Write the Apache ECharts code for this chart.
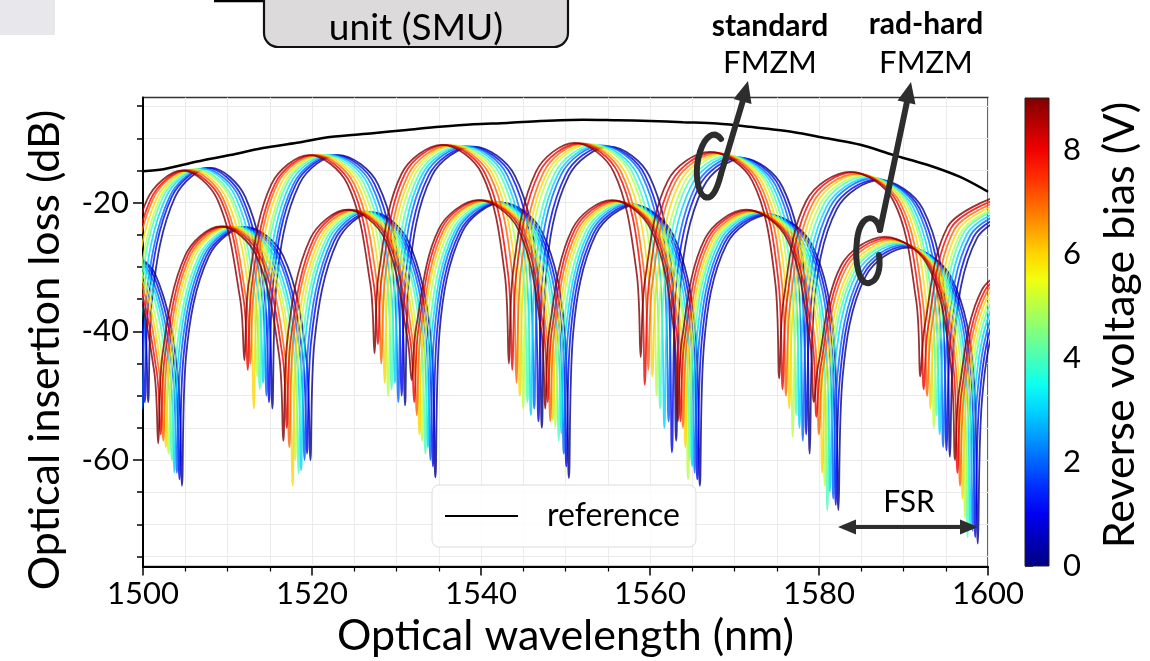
<!DOCTYPE html>
<html>
<head>
<meta charset="utf-8">
<script src="https://cdn.jsdelivr.net/npm/echarts@6/dist/echarts.min.js"></script>
<style>
  html, body { margin: 0; padding: 0; background: #ffffff; }
  #chart { width: 1150px; height: 661px; }
</style>
</head>
<body>
<div id="chart"></div>
<script>
// Optical insertion loss of a standard and a rad-hard folded MZ modulator,
// one trace per reverse bias voltage, plus the fibre-to-fibre reference.

const wavelengthRange = [1500, 1600];
const lossRange = [-76.55, -3.65];
const lossTickValues = [-75, -70, -65, -60, -55, -50, -45, -40, -35, -30, -25, -20, -15, -10, -5];
const lossLabelValues = [-60, -40, -20];
const biasRange = [0, 9];
const biasTickValues = [0, 2, 4, 6, 8];
const biasVolts = [0, 1, 2, 3, 4, 5, 6, 7, 8, 9];

// reference trace [nm, dB]
const referenceLoss = [[1500.0,-15.1],[1502.4,-14.8],[1506.4,-13.6],[1510.3,-12.6],[1514.2,-11.5],[1518.2,-10.7],[1522.1,-9.8],[1527.2,-9.2],[1531.2,-8.7],[1535.1,-8.2],[1539.1,-7.8],[1543.1,-7.6],[1547.0,-7.3],[1552.1,-7.1],[1556.1,-7.2],[1560.0,-7.3],[1563.9,-7.5],[1567.9,-7.7],[1571.8,-8.2],[1576.9,-9.0],[1580.9,-10.0],[1584.9,-11.0],[1588.8,-12.6],[1592.8,-14.1],[1596.7,-16.0],[1600.0,-18.3]];

// standard FMZM traces [nm, dB]
const std0V = [[1493.3,-17],[1497.4,-21.5],[1500.1,-37],[1500.6,-51],[1501.1,-34.6],[1503.8,-19.1],[1508.0,-14.6],[1512.1,-19.1],[1514.8,-34.6],[1515.3,-52],[1515.8,-32.6],[1518.5,-17.1],[1523.1,-12.6],[1527.8,-17.1],[1530.5,-32.6],[1531.0,-51.5],[1531.5,-31.3],[1534.2,-15.8],[1539.1,-11.3],[1544.0,-15.8],[1546.7,-31.3],[1547.2,-55],[1547.7,-31.3],[1550.4,-15.8],[1555.2,-11.3],[1559.9,-15.8],[1562.6,-31.3],[1563.1,-57],[1563.6,-33.1],[1566.3,-17.6],[1571.0,-13.1],[1575.7,-17.6],[1578.4,-33.1],[1578.9,-59],[1579.4,-36.5],[1582.1,-21],[1587.2,-16.5],[1592.3,-21],[1595.0,-36.5],[1595.5,-59.5],[1596.0,-41],[1598.7,-25.5],[1604.0,-21]];
const std1V = [[1492.9,-17],[1497.0,-21.5],[1499.7,-37],[1500.2,-51],[1500.7,-34.6],[1503.4,-19.1],[1507.6,-14.6],[1511.7,-19.1],[1514.4,-34.6],[1514.9,-51],[1515.4,-32.6],[1518.1,-17.1],[1522.8,-12.6],[1527.4,-17.1],[1530.1,-32.6],[1530.6,-50],[1531.1,-31.3],[1533.8,-15.8],[1538.7,-11.3],[1543.6,-15.8],[1546.3,-31.3],[1546.8,-54],[1547.3,-31.2],[1550.0,-15.7],[1554.7,-11.2],[1559.4,-15.7],[1562.1,-31.2],[1562.6,-58.8],[1563.1,-33],[1565.8,-17.5],[1570.6,-13],[1575.3,-17.5],[1578.0,-33],[1578.5,-56],[1579.0,-36.4],[1581.7,-20.9],[1586.8,-16.4],[1591.9,-20.9],[1594.6,-36.4],[1595.1,-58.5],[1595.6,-40.8],[1598.3,-25.3],[1603.6,-20.8]];
const std2V = [[1492.6,-17],[1496.7,-21.5],[1499.4,-37],[1499.9,-52],[1500.4,-34.7],[1503.1,-19.2],[1507.2,-14.7],[1511.4,-19.2],[1514.1,-34.7],[1514.6,-50],[1515.1,-32.6],[1517.8,-17.1],[1522.4,-12.6],[1527.0,-17.1],[1529.7,-32.6],[1530.2,-51],[1530.7,-31.2],[1533.4,-15.7],[1538.3,-11.2],[1543.1,-15.7],[1545.8,-31.2],[1546.3,-52],[1546.8,-31.1],[1549.5,-15.6],[1554.3,-11.1],[1559.0,-15.6],[1561.7,-31.1],[1562.2,-54],[1562.7,-32.9],[1565.4,-17.4],[1570.1,-12.9],[1574.9,-17.4],[1577.6,-32.9],[1578.1,-57],[1578.6,-36.2],[1581.3,-20.7],[1586.4,-16.2],[1591.5,-20.7],[1594.2,-36.2],[1594.7,-58],[1595.2,-40.6],[1597.9,-25.1],[1603.2,-20.6]];
const std3V = [[1492.2,-17],[1496.3,-21.5],[1499.0,-37],[1499.5,-50],[1500.0,-34.7],[1502.7,-19.2],[1506.9,-14.7],[1511.0,-19.2],[1513.7,-34.7],[1514.2,-48],[1514.7,-32.6],[1517.4,-17.1],[1522.0,-12.6],[1526.6,-17.1],[1529.3,-32.6],[1529.8,-48],[1530.3,-31.2],[1533.0,-15.7],[1537.9,-11.2],[1542.7,-15.7],[1545.4,-31.2],[1545.9,-53],[1546.4,-31.1],[1549.1,-15.6],[1553.8,-11.1],[1558.5,-15.6],[1561.2,-31.1],[1561.7,-55],[1562.2,-32.8],[1564.9,-17.3],[1569.7,-12.8],[1574.5,-17.3],[1577.2,-32.8],[1577.7,-55],[1578.2,-36.1],[1580.9,-20.6],[1586.0,-16.1],[1591.1,-20.6],[1593.8,-36.1],[1594.3,-56],[1594.8,-40.4],[1597.5,-24.9],[1602.8,-20.4]];
const std4V = [[1491.8,-17],[1495.9,-21.5],[1498.6,-37],[1499.1,-51],[1499.6,-34.8],[1502.3,-19.3],[1506.5,-14.8],[1510.6,-19.3],[1513.3,-34.8],[1513.8,-49],[1514.3,-32.6],[1517.0,-17.1],[1521.6,-12.6],[1526.2,-17.1],[1528.9,-32.6],[1529.4,-49],[1529.9,-31.2],[1532.6,-15.7],[1537.4,-11.2],[1542.3,-15.7],[1545.0,-31.2],[1545.5,-51],[1546.0,-31],[1548.7,-15.5],[1553.4,-11],[1558.0,-15.5],[1560.7,-31],[1561.2,-52],[1561.7,-32.7],[1564.4,-17.2],[1569.3,-12.7],[1574.1,-17.2],[1576.8,-32.7],[1577.3,-53],[1577.8,-35.9],[1580.5,-20.4],[1585.6,-15.9],[1590.7,-20.4],[1593.4,-35.9],[1593.9,-53],[1594.4,-40.2],[1597.1,-24.7],[1602.4,-20.2]];
const std5V = [[1491.5,-17],[1495.6,-21.5],[1498.3,-37],[1498.8,-48],[1499.3,-34.8],[1502.0,-19.3],[1506.1,-14.8],[1510.3,-19.3],[1513.0,-34.8],[1513.5,-47],[1514.0,-32.6],[1516.7,-17.1],[1521.2,-12.6],[1525.8,-17.1],[1528.5,-32.6],[1529.0,-50],[1529.5,-31.1],[1532.2,-15.6],[1537.0,-11.1],[1541.8,-15.6],[1544.5,-31.1],[1545.0,-52],[1545.5,-30.9],[1548.2,-15.4],[1552.9,-10.9],[1557.6,-15.4],[1560.3,-30.9],[1560.8,-50],[1561.3,-32.5],[1564.0,-17],[1568.8,-12.5],[1573.7,-17],[1576.4,-32.5],[1576.9,-56.4],[1577.4,-35.8],[1580.1,-20.3],[1585.2,-15.8],[1590.4,-20.3],[1593.1,-35.8],[1593.6,-55],[1594.1,-40.1],[1596.8,-24.6],[1602.1,-20.1]];
const std6V = [[1491.1,-17],[1495.2,-21.5],[1497.9,-37],[1498.4,-50],[1498.9,-34.9],[1501.6,-19.4],[1505.8,-14.9],[1509.9,-19.4],[1512.6,-34.9],[1513.1,-52],[1513.6,-32.6],[1516.3,-17.1],[1520.9,-12.6],[1525.4,-17.1],[1528.1,-32.6],[1528.6,-48],[1529.1,-31.1],[1531.8,-15.6],[1536.6,-11.1],[1541.4,-15.6],[1544.1,-31.1],[1544.6,-50],[1545.1,-30.9],[1547.8,-15.4],[1552.5,-10.9],[1557.1,-15.4],[1559.8,-30.9],[1560.3,-47],[1560.8,-32.4],[1563.5,-16.9],[1568.4,-12.4],[1573.3,-16.9],[1576.0,-32.4],[1576.5,-52],[1577.0,-35.6],[1579.7,-20.1],[1584.8,-15.6],[1590.0,-20.1],[1592.7,-35.6],[1593.2,-52],[1593.7,-39.9],[1596.4,-24.4],[1601.7,-19.9]];
const std7V = [[1490.7,-17],[1494.8,-21.5],[1497.5,-37],[1498.0,-49],[1498.5,-34.9],[1501.2,-19.4],[1505.4,-14.9],[1509.5,-19.4],[1512.2,-34.9],[1512.7,-45],[1513.2,-32.6],[1515.9,-17.1],[1520.5,-12.6],[1525.0,-17.1],[1527.7,-32.6],[1528.2,-45],[1528.7,-31.1],[1531.4,-15.6],[1536.2,-11.1],[1541.0,-15.6],[1543.7,-31.1],[1544.2,-48],[1544.7,-30.8],[1547.4,-15.3],[1552.0,-10.8],[1556.6,-15.3],[1559.3,-30.8],[1559.8,-46],[1560.3,-32.3],[1563.0,-16.8],[1568.0,-12.3],[1572.9,-16.8],[1575.6,-32.3],[1576.1,-50],[1576.6,-35.5],[1579.3,-20],[1584.4,-15.5],[1589.6,-20],[1592.3,-35.5],[1592.8,-50],[1593.3,-39.7],[1596.0,-24.2],[1601.3,-19.7]];
const std8V = [[1490.4,-17],[1494.5,-21.5],[1497.2,-37],[1497.7,-47],[1498.2,-35],[1500.9,-19.5],[1505.0,-15],[1509.2,-19.5],[1511.9,-35],[1512.4,-46],[1512.9,-32.6],[1515.6,-17.1],[1520.1,-12.6],[1524.6,-17.1],[1527.3,-32.6],[1527.8,-42],[1528.3,-31],[1531.0,-15.5],[1535.8,-11],[1540.5,-15.5],[1543.2,-31],[1543.7,-46],[1544.2,-30.8],[1546.9,-15.3],[1551.6,-10.8],[1556.2,-15.3],[1558.9,-30.8],[1559.4,-48.3],[1559.9,-32.2],[1562.6,-16.7],[1567.5,-12.2],[1572.5,-16.7],[1575.2,-32.2],[1575.7,-49],[1576.2,-35.3],[1578.9,-19.8],[1584.0,-15.3],[1589.2,-19.8],[1591.9,-35.3],[1592.4,-49],[1592.9,-39.5],[1595.6,-24],[1600.9,-19.5]];
const std9V = [[1490.0,-17],[1494.1,-21.5],[1496.8,-37],[1497.3,-48],[1497.8,-35],[1500.5,-19.5],[1504.7,-15],[1508.8,-19.5],[1511.5,-35],[1512.0,-44.5],[1512.5,-32.6],[1515.2,-17.1],[1519.7,-12.6],[1524.2,-17.1],[1526.9,-32.6],[1527.4,-43.4],[1527.9,-31],[1530.6,-15.5],[1535.4,-11],[1540.1,-15.5],[1542.8,-31],[1543.3,-45],[1543.8,-30.7],[1546.5,-15.2],[1551.1,-10.7],[1555.7,-15.2],[1558.4,-30.7],[1558.9,-44],[1559.4,-32.1],[1562.1,-16.6],[1567.1,-12.1],[1572.1,-16.6],[1574.8,-32.1],[1575.3,-47.3],[1575.8,-35.2],[1578.5,-19.7],[1583.7,-15.2],[1588.8,-19.7],[1591.5,-35.2],[1592.0,-47],[1592.5,-39.3],[1595.2,-23.8],[1600.5,-19.3]];

// rad-hard FMZM traces [nm, dB]
const rad0V = [[1497.3,-26.5],[1501.4,-31],[1504.1,-46.5],[1504.6,-64],[1505.1,-43.8],[1507.8,-28.3],[1512.2,-23.8],[1516.6,-28.3],[1519.3,-43.8],[1519.8,-60],[1520.3,-41.5],[1523.0,-26],[1527.2,-21.5],[1531.4,-26],[1534.1,-41.5],[1534.6,-62.7],[1535.1,-40],[1537.8,-24.5],[1542.5,-20],[1547.2,-24.5],[1549.9,-40],[1550.4,-62.8],[1550.9,-40.4],[1553.6,-24.9],[1558.2,-20.4],[1562.7,-24.9],[1565.4,-40.4],[1565.9,-64],[1566.4,-41.9],[1569.1,-26.4],[1574.1,-21.9],[1579.1,-26.4],[1581.8,-41.9],[1582.3,-67.8],[1582.8,-47],[1585.5,-31.5],[1590.5,-27],[1595.6,-31.5],[1598.3,-47],[1598.8,-73],[1599.3,-50.5],[1602.0,-35],[1607.3,-30.5]];
const rad1V = [[1497.0,-26.4],[1501.1,-30.9],[1503.8,-46.4],[1504.3,-63],[1504.8,-43.8],[1507.5,-28.3],[1511.9,-23.8],[1516.2,-28.3],[1518.9,-43.8],[1519.4,-59],[1519.9,-41.5],[1522.6,-26],[1526.9,-21.5],[1531.1,-26],[1533.8,-41.5],[1534.3,-61],[1534.8,-40],[1537.5,-24.5],[1542.2,-20],[1546.9,-24.5],[1549.6,-40],[1550.1,-61],[1550.6,-40.3],[1553.3,-24.8],[1557.9,-20.3],[1562.4,-24.8],[1565.1,-40.3],[1565.6,-63],[1566.1,-41.8],[1568.8,-26.3],[1573.8,-21.8],[1578.8,-26.3],[1581.5,-41.8],[1582.0,-67],[1582.5,-46.8],[1585.2,-31.3],[1590.2,-26.8],[1595.3,-31.3],[1598.0,-46.8],[1598.5,-72],[1599.0,-50.3],[1601.7,-34.8],[1607.0,-30.3]];
const rad2V = [[1496.7,-26.4],[1500.8,-30.9],[1503.5,-46.4],[1504.0,-62],[1504.5,-43.8],[1507.2,-28.3],[1511.5,-23.8],[1515.9,-28.3],[1518.6,-43.8],[1519.1,-60],[1519.6,-41.4],[1522.3,-25.9],[1526.5,-21.4],[1530.8,-25.9],[1533.5,-41.4],[1534.0,-60],[1534.5,-39.9],[1537.2,-24.4],[1541.9,-19.9],[1546.6,-24.4],[1549.3,-39.9],[1549.8,-59],[1550.3,-40.2],[1553.0,-24.7],[1557.6,-20.2],[1562.1,-24.7],[1564.8,-40.2],[1565.3,-62],[1565.8,-41.7],[1568.5,-26.2],[1573.5,-21.7],[1578.5,-26.2],[1581.2,-41.7],[1581.7,-66],[1582.2,-46.6],[1584.9,-31.1],[1589.9,-26.6],[1595.0,-31.1],[1597.7,-46.6],[1598.2,-71],[1598.7,-50.2],[1601.4,-34.7],[1606.7,-30.2]];
const rad3V = [[1496.4,-26.3],[1500.5,-30.8],[1503.2,-46.3],[1503.7,-61.9],[1504.2,-43.8],[1506.9,-28.3],[1511.2,-23.8],[1515.5,-28.3],[1518.2,-43.8],[1518.7,-61.6],[1519.2,-41.4],[1521.9,-25.9],[1526.2,-21.4],[1530.5,-25.9],[1533.2,-41.4],[1533.7,-58],[1534.2,-39.9],[1536.9,-24.4],[1541.6,-19.9],[1546.3,-24.4],[1549.0,-39.9],[1549.5,-55.9],[1550.0,-40.1],[1552.7,-24.6],[1557.3,-20.1],[1561.8,-24.6],[1564.5,-40.1],[1565.0,-61],[1565.5,-41.6],[1568.2,-26.1],[1573.2,-21.6],[1578.1,-26.1],[1580.8,-41.6],[1581.3,-65],[1581.8,-46.4],[1584.5,-30.9],[1589.6,-26.4],[1594.7,-30.9],[1597.4,-46.4],[1597.9,-70],[1598.4,-50],[1601.1,-34.5],[1606.4,-30]];
const rad4V = [[1496.1,-26.3],[1500.2,-30.8],[1502.9,-46.3],[1503.4,-60],[1503.9,-43.8],[1506.6,-28.3],[1510.9,-23.8],[1515.2,-28.3],[1517.9,-43.8],[1518.4,-62],[1518.9,-41.3],[1521.6,-25.8],[1525.9,-21.3],[1530.2,-25.8],[1532.9,-41.3],[1533.4,-59],[1533.9,-39.8],[1536.6,-24.3],[1541.3,-19.8],[1546.0,-24.3],[1548.7,-39.8],[1549.2,-57],[1549.7,-40],[1552.4,-24.5],[1557.0,-20],[1561.5,-24.5],[1564.2,-40],[1564.7,-60],[1565.2,-41.5],[1567.9,-26],[1572.9,-21.5],[1577.8,-26],[1580.5,-41.5],[1581.0,-67.8],[1581.5,-46.2],[1584.2,-30.7],[1589.3,-26.2],[1594.4,-30.7],[1597.1,-46.2],[1597.6,-72],[1598.1,-49.8],[1600.8,-34.3],[1606.1,-29.8]];
const rad5V = [[1495.8,-26.2],[1499.8,-30.7],[1502.5,-46.2],[1503.0,-59],[1503.5,-43.7],[1506.2,-28.2],[1510.5,-23.7],[1514.8,-28.2],[1517.5,-43.7],[1518.0,-60],[1518.5,-41.3],[1521.2,-25.8],[1525.5,-21.3],[1529.8,-25.8],[1532.5,-41.3],[1533.0,-57],[1533.5,-39.8],[1536.2,-24.3],[1540.9,-19.8],[1545.6,-24.3],[1548.3,-39.8],[1548.8,-55],[1549.3,-39.9],[1552.0,-24.4],[1556.7,-19.9],[1561.3,-24.4],[1564.0,-39.9],[1564.5,-63],[1565.0,-41.4],[1567.7,-25.9],[1572.6,-21.4],[1577.5,-25.9],[1580.2,-41.4],[1580.7,-64],[1581.2,-46.1],[1583.9,-30.6],[1589.0,-26.1],[1594.1,-30.6],[1596.8,-46.1],[1597.3,-69],[1597.8,-49.7],[1600.5,-34.2],[1605.8,-29.7]];
const rad6V = [[1495.5,-26.2],[1499.5,-30.7],[1502.2,-46.2],[1502.7,-58],[1503.2,-43.7],[1505.9,-28.2],[1510.2,-23.7],[1514.5,-28.2],[1517.2,-43.7],[1517.7,-64],[1518.2,-41.2],[1520.9,-25.7],[1525.2,-21.2],[1529.5,-25.7],[1532.2,-41.2],[1532.7,-56],[1533.2,-39.7],[1535.9,-24.2],[1540.6,-19.7],[1545.3,-24.2],[1548.0,-39.7],[1548.5,-53.8],[1549.0,-39.9],[1551.7,-24.4],[1556.4,-19.9],[1561.0,-24.4],[1563.7,-39.9],[1564.2,-58],[1564.7,-41.4],[1567.4,-25.9],[1572.3,-21.4],[1577.2,-25.9],[1579.9,-41.4],[1580.4,-62],[1580.9,-45.9],[1583.6,-30.4],[1588.7,-25.9],[1593.8,-30.4],[1596.5,-45.9],[1597.0,-66],[1597.5,-49.5],[1600.2,-34],[1605.5,-29.5]];
const rad7V = [[1495.2,-26.1],[1499.2,-30.6],[1501.9,-46.1],[1502.4,-57],[1502.9,-43.7],[1505.6,-28.2],[1509.9,-23.7],[1514.1,-28.2],[1516.8,-43.7],[1517.3,-58],[1517.8,-41.2],[1520.5,-25.7],[1524.9,-21.2],[1529.2,-25.7],[1531.9,-41.2],[1532.4,-53],[1532.9,-39.7],[1535.6,-24.2],[1540.3,-19.7],[1545.0,-24.2],[1547.7,-39.7],[1548.2,-54],[1548.7,-39.8],[1551.4,-24.3],[1556.1,-19.8],[1560.7,-24.3],[1563.4,-39.8],[1563.9,-55],[1564.4,-41.3],[1567.1,-25.8],[1572.0,-21.3],[1576.8,-25.8],[1579.5,-41.3],[1580.0,-56],[1580.5,-45.7],[1583.2,-30.2],[1588.4,-25.7],[1593.5,-30.2],[1596.2,-45.7],[1596.7,-64],[1597.2,-49.3],[1599.9,-33.8],[1605.2,-29.3]];
const rad8V = [[1494.9,-26.1],[1498.9,-30.6],[1501.6,-46.1],[1502.1,-56],[1502.6,-43.7],[1505.3,-28.2],[1509.5,-23.7],[1513.8,-28.2],[1516.5,-43.7],[1517.0,-55],[1517.5,-41.1],[1520.2,-25.6],[1524.5,-21.1],[1528.9,-25.6],[1531.6,-41.1],[1532.1,-51],[1532.6,-39.6],[1535.3,-24.1],[1540.0,-19.6],[1544.7,-24.1],[1547.4,-39.6],[1547.9,-51],[1548.4,-39.7],[1551.1,-24.2],[1555.8,-19.7],[1560.4,-24.2],[1563.1,-39.7],[1563.6,-54],[1564.1,-41.2],[1566.8,-25.7],[1571.7,-21.2],[1576.5,-25.7],[1579.2,-41.2],[1579.7,-53.3],[1580.2,-45.5],[1582.9,-30],[1588.1,-25.5],[1593.2,-30],[1595.9,-45.5],[1596.4,-62],[1596.9,-49.2],[1599.6,-33.7],[1604.9,-29.2]];
const rad9V = [[1494.6,-26],[1498.6,-30.5],[1501.3,-46],[1501.8,-57.4],[1502.3,-43.7],[1505.0,-28.2],[1509.2,-23.7],[1513.4,-28.2],[1516.1,-43.7],[1516.6,-57],[1517.1,-41.1],[1519.8,-25.6],[1524.2,-21.1],[1528.6,-25.6],[1531.3,-41.1],[1531.8,-47.6],[1532.3,-39.6],[1535.0,-24.1],[1539.7,-19.6],[1544.4,-24.1],[1547.1,-39.6],[1547.6,-52],[1548.1,-39.6],[1550.8,-24.1],[1555.5,-19.6],[1560.1,-24.1],[1562.8,-39.6],[1563.3,-54],[1563.8,-41.1],[1566.5,-25.6],[1571.4,-21.1],[1576.2,-25.6],[1578.9,-41.1],[1579.4,-51],[1579.9,-45.3],[1582.6,-29.8],[1587.8,-25.3],[1592.9,-29.8],[1595.6,-45.3],[1596.1,-60],[1596.6,-49],[1599.3,-33.5],[1604.6,-29]];

const standardTraces = [std0V, std1V, std2V, std3V, std4V, std5V, std6V, std7V, std8V, std9V];
const radHardTraces = [rad0V, rad1V, rad2V, rad3V, rad4V, rad5V, rad6V, rad7V, rad8V, rad9V];

const FONT = 'Lato';
const INK = '#2d2d2d';

// jet colour map, t in [0, 1]
function jet(t) {
  const c = (x) => Math.round(255 * Math.max(0, Math.min(1, x)));
  return 'rgb(' + c(1.5 - Math.abs(4 * t - 3)) + ',' + c(1.5 - Math.abs(4 * t - 2)) + ',' + c(1.5 - Math.abs(4 * t - 1)) + ')';
}

const chart = echarts.init(document.getElementById('chart'), null, { renderer: 'canvas' });

const traceSeries = [];
biasVolts.forEach((v, i) => {
  const color = jet((v - biasRange[0]) / (biasRange[1] - biasRange[0]));
  [['rad-hard FMZM', radHardTraces[i]], ['standard FMZM', standardTraces[i]]].forEach(([dev, data]) => {
    traceSeries.push({
      name: dev + ' ' + v + ' V',
      type: 'line',
      xAxisIndex: 0,
      yAxisIndex: 0,
      data: data,
      showSymbol: false,
      symbol: 'none',
      smooth: 0.35,
      lineStyle: { color: color, width: 1.8, opacity: 0.8 },
      silent: true,
      z: 2
    });
  });
});

const colorStops = [];
for (let i = 0; i <= 18; i++) colorStops.push({ offset: i / 18, color: jet(i / 18) });

const tickText = { fontSize: 31, fontFamily: FONT, color: '#000' };
const titleText = { fontSize: 43, fontFamily: FONT, color: '#000' };
const axisInk = { color: '#000', width: 1.5 };
const pointerStyle = { stroke: INK, lineWidth: 6, fill: null, lineCap: 'round', lineJoin: 'round' };

// cubic segment helper for the hand-drawn pointer hooks
function hook(p0, c1, c2, p1) {
  return { type: 'bezierCurve', shape: { x1: p0[0], y1: p0[1], cpx1: c1[0], cpy1: c1[1], cpx2: c2[0], cpy2: c2[1], x2: p1[0], y2: p1[1] }, style: pointerStyle, z: 12 };
}

// vertical (bottom-to-top) title text
function verticalTitle(text, x, y) {
  return { type: 'text', x: x, y: y, rotation: Math.PI / 2,
    style: { text: text, fontSize: titleText.fontSize, fontFamily: FONT, fill: '#000', align: 'center', verticalAlign: 'middle' }, z: 11 };
}

const option = {
  animation: false,
  backgroundColor: '#ffffff',
  textStyle: { fontFamily: FONT },
  grid: [
    { left: 143, top: 97.5, width: 845, height: 469, show: true, borderColor: '#333', borderWidth: 1.5,
      backgroundColor: 'transparent', containLabel: false, outerBoundsMode: 'none' },
    { left: 1025, top: 98, width: 24, height: 468, containLabel: false, outerBoundsMode: 'none' }
  ],
  xAxis: [
    {
      type: 'value', gridIndex: 0, min: wavelengthRange[0], max: wavelengthRange[1], interval: 20,
      axisLine: { show: true, onZero: false, lineStyle: { color: '#000', width: 2 } },
      axisTick: { show: true, length: 9, lineStyle: axisInk },
      minorTick: { show: true, splitNumber: 4, length: 5, lineStyle: { color: '#000', width: 1.2 } },
      axisLabel: Object.assign({ margin: 12, formatter: (v) => String(v) }, tickText),
      splitLine: { show: true, lineStyle: { color: '#ebebeb', width: 1 } },
      minorSplitLine: { show: true, lineStyle: { color: '#ebebeb', width: 1 } },
      name: 'Optical wavelength (nm)', nameLocation: 'middle', nameGap: 45, nameTextStyle: titleText
    },
    { type: 'value', gridIndex: 1, min: 0, max: 1, show: false }
  ],
  yAxis: [
    {
      type: 'value', gridIndex: 0, min: lossRange[0], max: lossRange[1], position: 'left',
      axisLine: { show: true, onZero: false, lineStyle: { color: '#000', width: 2 } },
      axisTick: { show: true, length: 6, customValues: lossTickValues, lineStyle: axisInk },
      axisLabel: Object.assign({ margin: 14, customValues: lossLabelValues, formatter: (v) => String(v) }, tickText),
      splitLine: { show: true, lineStyle: { color: '#ebebeb', width: 1 } }
    },
    {
      type: 'value', gridIndex: 0, min: lossRange[0], max: lossRange[1], position: 'left', offset: 0,
      axisLine: { show: false },
      axisTick: { show: true, length: 10, customValues: lossLabelValues, lineStyle: axisInk },
      axisLabel: { show: false },
      splitLine: { show: false }
    },
    {
      type: 'value', gridIndex: 1, min: biasRange[0], max: biasRange[1], position: 'right',
      axisLine: { show: false },
      axisTick: { show: true, length: 8, customValues: biasTickValues, lineStyle: axisInk },
      axisLabel: Object.assign({ margin: 14, customValues: biasTickValues }, tickText),
      splitLine: { show: false }
    }
  ],
  legend: {
    data: ['reference'],
    left: 432, top: 485,
    orient: 'horizontal',
    backgroundColor: 'rgba(255,255,255,0.85)',
    borderColor: '#dcdcdc', borderWidth: 1, borderRadius: 7,
    padding: [15, 16, 15, 13],
    icon: 'rect',
    itemWidth: 73, itemHeight: 2,
    selectedMode: false,
    textStyle: { fontSize: 32, fontFamily: FONT, color: '#000', padding: [0, 0, 0, 24] }
  },
  series: traceSeries.concat([
    {
      name: 'reference', type: 'line', xAxisIndex: 0, yAxisIndex: 0,
      data: referenceLoss, showSymbol: false, symbol: 'none', smooth: 0.3,
      lineStyle: { color: '#000', width: 2.5 }, itemStyle: { color: '#000' }, silent: true, z: 4
    },
    {
      name: 'bias scale', type: 'custom', xAxisIndex: 1, yAxisIndex: 2, clip: false, silent: true,
      data: [[0, biasRange[0], biasRange[1]]],
      encode: { x: 0, y: [1, 2] },
      renderItem: function (params, api) {
        const lo = api.coord([0, api.value(1)]);
        const hi = api.coord([1, api.value(2)]);
        return {
          type: 'rect',
          shape: { x: lo[0], y: hi[1], width: hi[0] - lo[0], height: lo[1] - hi[1] },
          style: { fill: new echarts.graphic.LinearGradient(0, 1, 0, 0, colorStops), stroke: '#222', lineWidth: 1 }
        };
      }
    }
  ]),
  graphic: [
    // axis titles drawn upright along the vertical axes
    verticalTitle('Optical insertion loss (dB)', 45, 350),
    verticalTitle('Reverse voltage bias (V)', 1120, 325),

    // remains of the set-up drawing above the plot
    { type: 'rect', shape: { x: 0, y: 0, width: 55, height: 35 }, style: { fill: '#e8e8ec' }, z: 10 },
    { type: 'line', shape: { x1: 214, y1: 1, x2: 264, y2: 1 }, style: { stroke: '#000', lineWidth: 2.5 }, z: 10 },
    { type: 'rect', shape: { x: 264, y: -30, width: 304, height: 77, r: [0, 0, 14, 14] },
      style: { fill: '#dcdadb', stroke: '#111', lineWidth: 2.2 }, z: 10 },
    { type: 'text', x: 416, y: 28, style: { text: 'unit (SMU)', fontSize: 37, fontFamily: FONT, fill: '#000', align: 'center', verticalAlign: 'middle' }, z: 11 },

    // device labels
    { type: 'text', x: 770, y: 26, style: { text: 'standard', fontSize: 30, fontWeight: 'bold', fontFamily: FONT, fill: '#000', align: 'center', verticalAlign: 'middle' }, z: 11 },
    { type: 'text', x: 770, y: 63, style: { text: 'FMZM', fontSize: 31, fontFamily: FONT, fill: '#000', align: 'center', verticalAlign: 'middle' }, z: 11 },
    { type: 'text', x: 926, y: 24, style: { text: 'rad-hard', fontSize: 30, fontWeight: 'bold', fontFamily: FONT, fill: '#000', align: 'center', verticalAlign: 'middle' }, z: 11 },
    { type: 'text', x: 926, y: 63, style: { text: 'FMZM', fontSize: 31, fontFamily: FONT, fill: '#000', align: 'center', verticalAlign: 'middle' }, z: 11 },

    // pointer from the standard device label to its traces
    { type: 'polyline', shape: { points: [[744, 97], [721, 174]] }, style: pointerStyle, z: 12 },
    hook([721, 174], [717, 190], [712, 200], [705, 197]),
    hook([705, 197], [697, 193], [694, 170], [700, 152]),
    hook([700, 152], [705, 136], [714, 130], [721, 139]),
    { type: 'polygon', shape: { points: [[748, 81], [751.5, 104], [733.5, 99]] }, style: { fill: INK }, z: 12 },

    // pointer from the rad-hard device label to its traces
    { type: 'polyline', shape: { points: [[908, 97], [880, 230]] }, style: pointerStyle, z: 12 },
    hook([880, 230], [876, 212], [860, 214], [857, 240]),
    hook([857, 240], [854, 265], [860, 285], [869, 283]),
    hook([869, 283], [878, 281], [881, 268], [879, 255]),
    { type: 'polygon', shape: { points: [[911, 82], [915.5, 104.5], [897.5, 100.5]] }, style: { fill: INK }, z: 12 },

    // free spectral range marker
    { type: 'line', shape: { x1: 852, y1: 527, x2: 964, y2: 527 }, style: { stroke: INK, lineWidth: 4 }, z: 12 },
    { type: 'polygon', shape: { points: [[838, 527], [856, 519.5], [856, 534.5]] }, style: { fill: INK }, z: 12 },
    { type: 'polygon', shape: { points: [[978, 527], [960, 519.5], [960, 534.5]] }, style: { fill: INK }, z: 12 },
    { type: 'text', x: 909, y: 502, style: { text: 'FSR', fontSize: 30, fontFamily: FONT, fill: '#000', align: 'center', verticalAlign: 'middle' }, z: 12 }
  ]
};

chart.setOption(option);
</script>
</body>
</html>
